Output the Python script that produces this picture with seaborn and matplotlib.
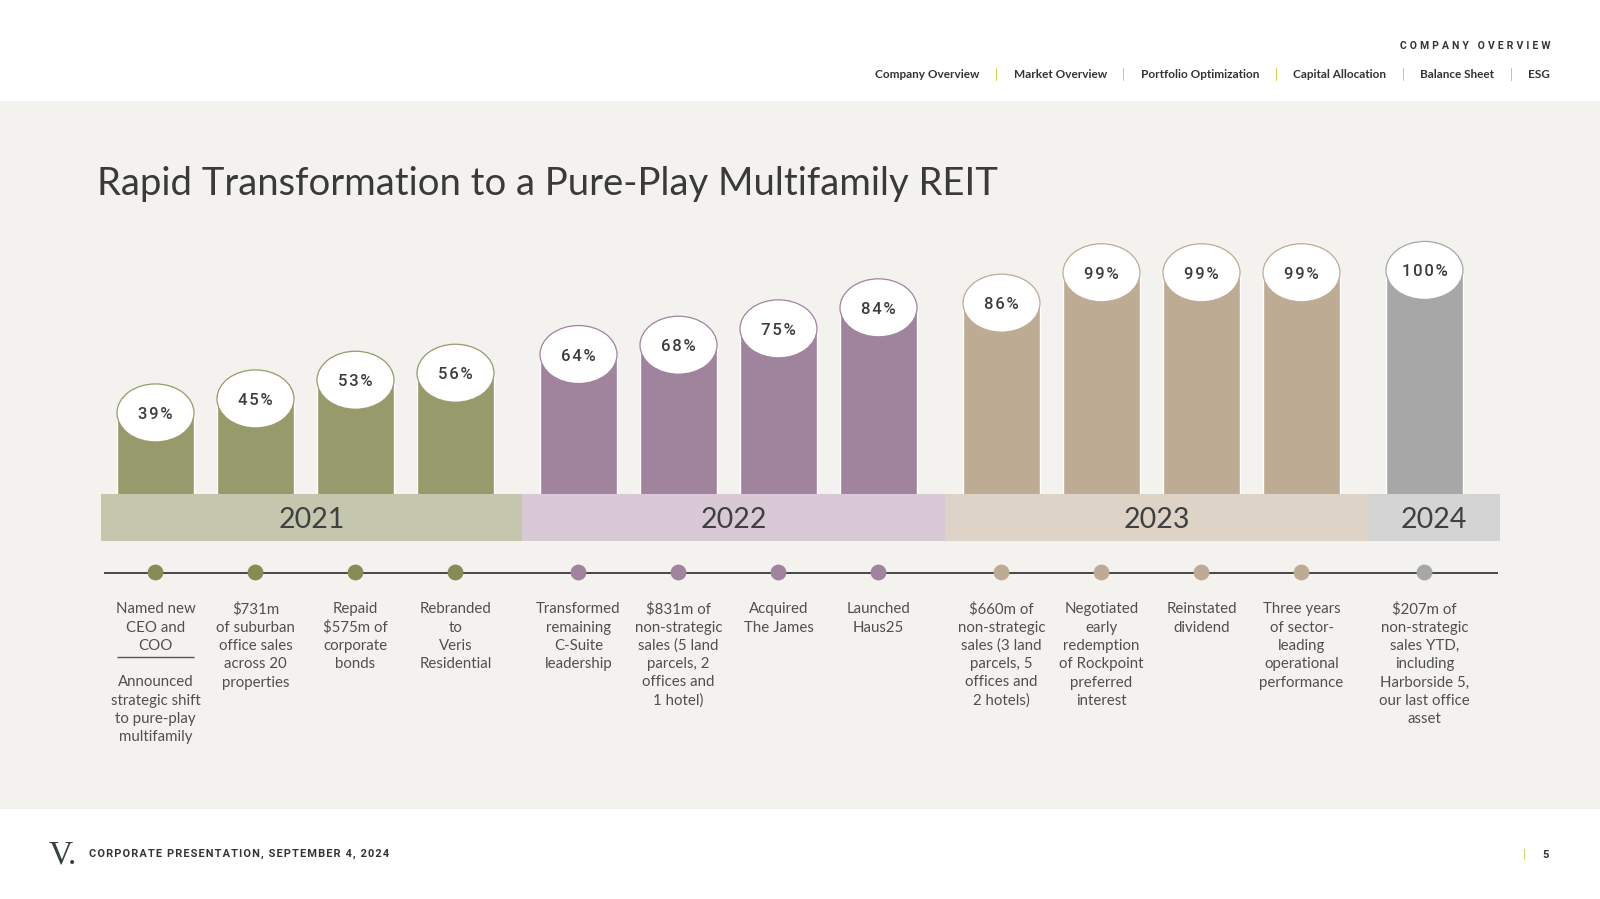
import matplotlib
matplotlib.use("Agg")
import matplotlib.pyplot as plt
from matplotlib.patches import Ellipse, Rectangle
import pandas as pd
import seaborn as sns

# data
years = ["2021"] * 4 + ["2022"] * 4 + ["2023"] * 4 + ["2024"]
year_labels = ["2021", "2022", "2023", "2024"]
multifamily_share = [39, 45, 53, 56, 64, 68, 75, 84, 86, 99, 99, 99, 100]
milestones = [
    "Named new\nCEO and\nCOO\n\nAnnounced\nstrategic shift\nto pure-play\nmultifamily",
    "$731m\nof suburban\noffice sales\nacross 20\nproperties",
    "Repaid\n$575m of\ncorporate\nbonds",
    "Rebranded\nto\nVeris\nResidential",
    "Transformed\nremaining\nC-Suite\nleadership",
    "$831m of\nnon-strategic\nsales (5 land\nparcels, 2\noffices and\n1 hotel)",
    "Acquired\nThe James",
    "Launched\nHaus25",
    "$660m of\nnon-strategic\nsales (3 land\nparcels, 5\noffices and\n2 hotels)",
    "Negotiated\nearly\nredemption\nof Rockpoint\npreferred\ninterest",
    "Reinstated\ndividend",
    "Three years\nof sector-\nleading\noperational\nperformance",
    "$207m of\nnon-strategic\nsales YTD,\nincluding\nHarborside 5,\nour last office\nasset",
]
nav_items = ["Company Overview", "Market Overview", "Portfolio Optimization",
             "Capital Allocation", "Balance Sheet", "ESG"]
title = "Rapid Transformation to a Pure-Play Multifamily REIT"
section = "COMPANY OVERVIEW"
footer = "CORPORATE PRESENTATION, SEPTEMBER 4, 2024"
page = "5"

bar_colors = {"2021": "#979a6a", "2022": "#a0839d", "2023": "#bdab94", "2024": "#a7a7a7"}
band_colors = {"2021": "#c4c7ad", "2022": "#d9c9d6", "2023": "#ddd3c6", "2024": "#d4d4d4"}
dot_colors = {"2021": "#878b55", "2022": "#a0839d", "2023": "#bdab94", "2024": "#a7a7a7"}
bg_color = "#f4f2ee"
text_color = "#3c3c3c"
accent = "#c8cf2e"

W, H = 1600, 899
PX_PER_PCT = 2.336
GROUP_GAP = 0.23


def px_axes(fig, left, top, right, bottom):
    return fig.add_axes([left / W, 1 - bottom / H, (right - left) / W, (bottom - top) / H])


def spaced(s, gap="\u2009"):
    return gap.join(s)


sns.set_theme(style="white")
plt.rcParams["font.family"] = ["Lato", "DejaVu Sans"]

df = pd.DataFrame({"year": years, "share": multifamily_share, "milestone": milestones})
df["group"] = df["year"].map(year_labels.index)
df["pos"] = df.index + GROUP_GAP * df["group"]

fig = plt.figure(figsize=(W / 100, H / 100), dpi=100, facecolor="white")
fig.patches.append(Rectangle((0, 1 - 809 / H), 1, (809 - 101) / H,
                             transform=fig.transFigure, facecolor=bg_color,
                             edgecolor="none", zorder=-10))

x_lim = (-0.545, 13.445)

# bars
ax = px_axes(fig, 101, 230, 1500, 494)
sns.barplot(data=df, x="pos", y="share", hue="year", palette=bar_colors,
            native_scale=True, dodge=False, width=0.767, saturation=1,
            errorbar=None, legend=False, ax=ax)
y_low = 4.3
ax.set_xlim(*x_lim)
ax.set_ylim(y_low, y_low + 264 / PX_PER_PCT)
ax.axis("off")

for _, row in df.iterrows():
    ax.add_patch(Ellipse((row["pos"], row["share"]), 0.77, 58 / PX_PER_PCT,
                         facecolor="white", edgecolor=bar_colors[row["year"]],
                         lw=0.9, zorder=4))
    ax.annotate(spaced(f"{row['share']}%", "\u200a"), (row["pos"], row["share"]),
                xytext=(0, -4.3), textcoords="offset points", ha="center",
                va="baseline", fontsize=12, fontfamily=["Roboto", "DejaVu Sans"],
                fontweight="medium", color=text_color, zorder=5)

# year bands, timeline and milestones
tl = px_axes(fig, 101, 494, 1500, 770)
tl.set_xlim(*x_lim)
tl.set_ylim(770, 494)
tl.axis("off")

last_pos = df.groupby("group")["pos"].max().tolist()
first_pos = df.groupby("group")["pos"].min().tolist()
edges = ([x_lim[0]]
         + [(last_pos[i] + first_pos[i + 1]) / 2 + 0.05 for i in range(3)]
         + [x_lim[1]])
for i, year in enumerate(year_labels):
    tl.add_patch(Rectangle((edges[i], 494), edges[i + 1] - edges[i], 47,
                           facecolor=band_colors[year], edgecolor="none"))
    tl.text((edges[i] + edges[i + 1]) / 2, 528.3, year, ha="center", va="baseline",
            fontsize=20.5, fontweight="normal", color="#404040")

timeline_y = 572.5
tl.hlines(timeline_y, -0.52, 13.42, color="#3a3a3a", lw=1.3, zorder=2)
sns.scatterplot(x=df["pos"], y=[timeline_y] * len(df), hue=df["year"],
                palette=dot_colors, s=130, edgecolor="none", legend=False,
                zorder=3, ax=tl)
tl.set_xlim(*x_lim)
tl.set_ylim(770, 494)
tl.axis("off")

for _, row in df.iterrows():
    for j, line in enumerate(row["milestone"].split("\n")):
        y = 613.3 + 18.3 * j
        if line == "":
            tl.hlines(y - 11.3, row["pos"] - 0.385, row["pos"] + 0.385,
                      color="#555555", lw=1)
            continue
        tl.text(row["pos"], y, line, ha="center", va="baseline", fontsize=10.8,
                fontweight="normal", color="#505050", parse_math=False)

# title and header
fig.text(97 / W, 1 - 195 / H, title, ha="left", va="baseline", fontsize=27.5,
         fontweight="normal", color="#3a3a3a")
fig.text(1550 / W, 1 - 46 / H, spaced(section, "\u2009\u200a"), ha="right",
         va="center", fontsize=7.5, fontweight="bold", color="#333333",
         fontfamily=["Roboto", "DejaVu Sans"])

renderer = fig.canvas.get_renderer()
x = 1550
for idx, item in enumerate(reversed(nav_items)):
    t = fig.text(x / W, 1 - 74.5 / H, item, ha="right", va="center", fontsize=8.5,
                 fontweight="bold", color="#333333")
    x -= t.get_window_extent(renderer).width
    if idx < len(nav_items) - 1:
        x -= 17
        fig.text(x / W, 1 - 74.5 / H, "|", ha="center", va="center", fontsize=9,
                 color=accent)
        x -= 17

# footer
fig.text(49 / W, 1 - 863 / H, "V.", ha="left", va="baseline", fontsize=24,
         fontfamily="Liberation Serif", color="#36423a")
fig.text(89 / W, 1 - 856.7 / H, spaced(footer, "\u200a"), ha="left", va="baseline",
         fontsize=7.9, fontweight="bold", color="#333333",
         fontfamily=["Roboto", "DejaVu Sans"])
fig.text(1524 / W, 1 - 855 / H, "|", ha="center", va="center", fontsize=8, color=accent)
fig.text(1546 / W, 1 - 855 / H, page, ha="center", va="center", fontsize=8,
         fontweight="bold", color="#333333", fontfamily="Roboto")

fig.savefig("out.png", dpi=100, facecolor="white")
